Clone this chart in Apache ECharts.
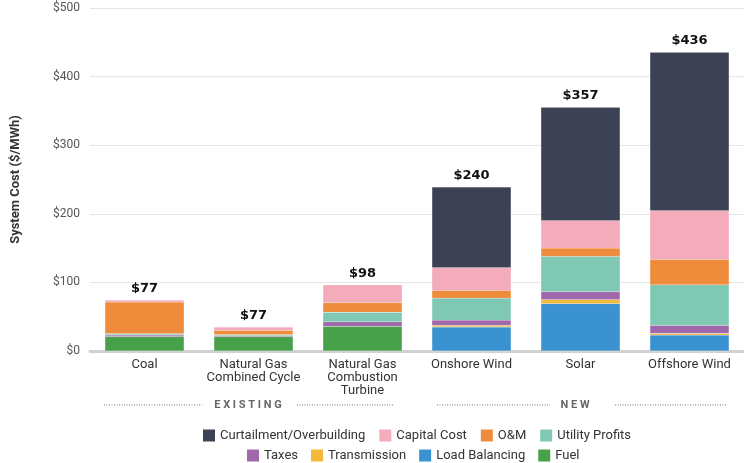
<!DOCTYPE html>
<html>
<head>
    <meta charset="UTF-8">
    <title>System Cost</title>
    <style>
        html, body { margin: 0; padding: 0; background: #ffffff; }
        #main { width: 744px; height: 463px; }
    </style>
    <script src="https://cdn.jsdelivr.net/npm/echarts@6/dist/echarts.min.js"></script>
</head>
<body>
<div id="main"></div>
<script type="text/javascript">
    // categories and values, bottom of the stack first
    var categories = ['Coal', 'Natural Gas\nCombined Cycle', 'Natural Gas\nCombustion\nTurbine', 'Onshore Wind', 'Solar', 'Offshore Wind'];
    var fuel           = [21, 21, 36, 0, 0, 0];
    var loadBalancing  = [0, 0, 0, 35, 69, 23];
    var transmission   = [0, 0, 0, 2.5, 6, 2.5];
    var taxes          = [2.3, 1.5, 6.5, 7.5, 11.5, 12];
    var utilityProfits = [2, 1.5, 14, 32, 51.5, 59];
    var om             = [46, 6, 14, 11.5, 12, 37];
    var capitalCost    = [3, 5, 26, 33, 40, 71];
    var curtailment    = [0, 0, 0, 117.5, 165, 231];
    var totalLabels    = ['$77', '$77', '$98', '$240', '$357', '$436'];
    var yTicks         = [0, 100, 200, 300, 400, 500];

    var layers = [
        {name: 'Fuel', data: fuel, color: '#47a14b'},
        {name: 'Load Balancing', data: loadBalancing, color: '#3a92d1'},
        {name: 'Transmission', data: transmission, color: '#f4b93a'},
        {name: 'Taxes', data: taxes, color: '#a068ab'},
        {name: 'Utility Profits', data: utilityProfits, color: '#7fc9b4'},
        {name: 'O&M', data: om, color: '#ee8c3b'},
        {name: 'Capital Cost', data: capitalCost, color: '#f4abbc'},
        {name: 'Curtailment/Overbuilding', data: curtailment, color: '#3d4154'}
    ];

    var series = layers.map(function (l) {
        return {
            name: l.name,
            type: 'bar',
            stack: 'cost',
            barWidth: 79,
            data: l.data,
            itemStyle: {color: l.color, borderColor: 'rgba(255,255,255,0.35)', borderWidth: 0.3}
        };
    });
    // empty layer on top of each stack, only carries the total label
    series.push({
        name: 'total',
        type: 'bar',
        stack: 'cost',
        barWidth: 79,
        silent: true,
        data: categories.map(function () { return 0; }),
        itemStyle: {color: 'transparent'},
        label: {
            show: true,
            position: 'top',
            distance: 5,
            formatter: function (p) { return totalLabels[p.dataIndex]; },
            fontFamily: 'DejaVu Sans',
            fontWeight: 'bold',
            fontSize: 13,
            color: '#111'
        }
    });

    var legendText = {fontFamily: 'Roboto', fontSize: 13, color: '#333'};

    var option = {
        backgroundColor: '#ffffff',
        animation: false,
        textStyle: {fontFamily: 'Roboto'},
        grid: {left: 90, right: 0, top: 8, bottom: 112},
        legend: [
            {
                data: ['Curtailment/Overbuilding', 'Capital Cost', 'O&M', 'Utility Profits'],
                left: 198, top: 424,
                icon: 'rect', itemWidth: 12, itemHeight: 12, itemGap: 14,
                itemStyle: {borderWidth: 0},
                textStyle: legendText
            },
            {
                data: ['Taxes', 'Transmission', 'Load Balancing', 'Fuel'],
                left: 242, top: 444,
                icon: 'rect', itemWidth: 12, itemHeight: 12, itemGap: 13,
                itemStyle: {borderWidth: 0},
                textStyle: legendText
            }
        ],
        xAxis: {
            type: 'category',
            data: categories,
            axisTick: {show: false},
            axisLine: {lineStyle: {color: '#d2d2d2', width: 3}},
            axisLabel: {
                interval: 0,
                margin: 7,
                fontFamily: 'Roboto',
                fontSize: 13,
                lineHeight: 13,
                color: '#333'
            }
        },
        yAxis: {
            type: 'value',
            min: yTicks[0],
            max: yTicks[yTicks.length - 1],
            interval: 100,
            name: 'System Cost ($/MWh)',
            nameLocation: 'middle',
            nameGap: 68,
            nameTextStyle: {fontFamily: 'Roboto', fontWeight: 'bold', fontSize: 13, color: '#333'},
            axisLine: {show: false},
            axisTick: {show: false},
            axisLabel: {
                margin: 10,
                fontFamily: 'Roboto',
                fontSize: 12,
                color: '#555',
                formatter: function (v) { return '$' + v; }
            },
            splitLine: {lineStyle: {color: '#e6e6e6', width: 1}}
        },
        graphic: [
            {type: 'line', shape: {x1: 104, y1: 405, x2: 202, y2: 405}, style: {stroke: '#777', lineWidth: 1, lineDash: [1, 1.5]}},
            {type: 'line', shape: {x1: 297, y1: 405, x2: 394, y2: 405}, style: {stroke: '#777', lineWidth: 1, lineDash: [1, 1.5]}},
            {type: 'line', shape: {x1: 437, y1: 405, x2: 550, y2: 405}, style: {stroke: '#777', lineWidth: 1, lineDash: [1, 1.5]}},
            {type: 'line', shape: {x1: 615, y1: 405, x2: 726, y2: 405}, style: {stroke: '#777', lineWidth: 1, lineDash: [1, 1.5]}},
            {type: 'text', x: 248, y: 405, style: {text: 'E X I S T I N G', fontFamily: 'Roboto', fontWeight: 'bold', fontSize: 11, fill: '#666', align: 'center', verticalAlign: 'middle'}},
            {type: 'text', x: 575, y: 405, style: {text: 'N E W', fontFamily: 'Roboto', fontWeight: 'bold', fontSize: 11, fill: '#666', align: 'center', verticalAlign: 'middle'}}
        ],
        series: series
    };

    var myChart = echarts.init(document.getElementById('main'));
    myChart.setOption(option);
</script>
</body>
</html>
